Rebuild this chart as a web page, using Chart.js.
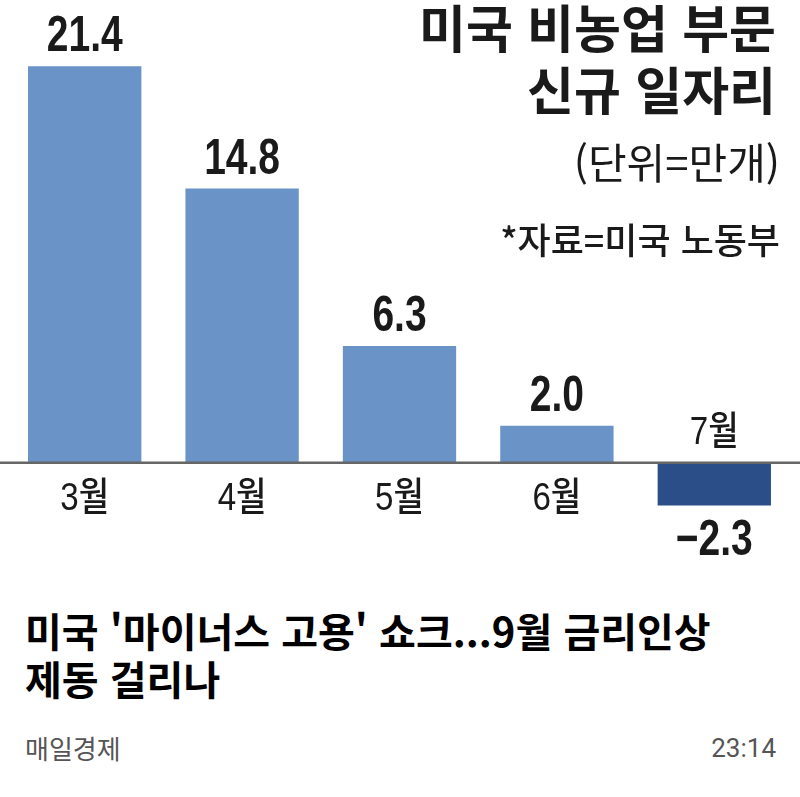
<!DOCTYPE html>
<html lang="ko">
<head>
<meta charset="utf-8">
<script src="https://cdn.jsdelivr.net/npm/chart.js@4"></script>
<style>
  html, body { margin: 0; padding: 0; background: #fff; }
  body { width: 800px; height: 797px; position: relative; overflow: hidden; font-family: "Noto Sans CJK KR", sans-serif; }
  #wrap { position: absolute; left: 0; top: 0; width: 800px; height: 590px; }
  .t { position: absolute; white-space: nowrap; line-height: 1; color: #1a1a1a; }
  .r { right: 24px; text-align: right; }
</style>
</head>
<body>
<div id="wrap"><canvas id="myChart"></canvas></div>

<div class="t r" style="top:1px; font-size:51px; font-weight:700;">미국 비농업 부문</div>
<div class="t r" style="top:63px; font-size:51px; font-weight:700;">신규 일자리</div>
<div class="t r" style="top:140px; font-size:42px; font-weight:400; right:20px;">(단위=만개)</div>
<div class="t r" style="top:220px; font-size:36px; font-weight:500; right:20px;">*자료=미국 노동부</div>

<div class="t" style="left:25px; top:610px; font-size:40px; font-weight:700; color:#000;">미국 '마이너스 고용' 쇼크...9월 금리인상</div>
<div class="t" style="left:25px; top:658px; font-size:40px; font-weight:700; color:#000;">제동 걸리나</div>

<div class="t" style="left:25px; top:735px; font-size:26px; color:#555;">매일경제</div>
<div class="t r" style="top:735px; font-size:26px; color:#555; font-family: Roboto, sans-serif;">23:14</div>

<script>
// data
const months = ['3월', '4월', '5월', '6월', '7월'];
const jobs = [21.4, 14.8, 6.3, 2.0, -2.3];
const valueLabels = ['21.4', '14.8', '6.3', '2.0', '\u22122.3'];

const barBlue = '#6a93c8';
const barNavy = '#2c4e88';

// draw text squeezed horizontally, like the condensed type in the original
function narrowText(ctx, text, x, y, scale) {
    ctx.save();
    ctx.translate(x, y);
    ctx.scale(scale, 1);
    ctx.fillText(text, 0, 0);
    ctx.restore();
}

const labelPlugin = {
    id: 'labelPlugin',
    afterDatasetsDraw(chart) {
        const ctx = chart.ctx;
        const y = chart.scales.y;
        const zero = y.getPixelForValue(0);
        const meta = chart.getDatasetMeta(0);

        // zero line
        ctx.save();
        ctx.strokeStyle = '#666';
        ctx.lineWidth = 2.5;
        ctx.beginPath();
        ctx.moveTo(0, zero);
        ctx.lineTo(chart.width, zero);
        ctx.stroke();

        ctx.fillStyle = '#1a1a1a';
        ctx.textAlign = 'center';

        meta.data.forEach((bar, i) => {
            const v = jobs[i];
            // value labels
            ctx.font = 'bold 50px "Liberation Sans", Arial, sans-serif';
            ctx.textBaseline = 'alphabetic';
            if (v >= 0) {
                narrowText(ctx, valueLabels[i], bar.x, bar.y - 15, 0.78);
            } else {
                narrowText(ctx, valueLabels[i], bar.x, bar.y + 50, 0.78);
            }
            // month labels
            ctx.font = '500 39px "Liberation Sans", "Noto Sans CJK KR", sans-serif';
            ctx.textBaseline = 'middle';
            if (v >= 0) {
                narrowText(ctx, months[i], bar.x, zero + 36, 0.85);
            } else {
                narrowText(ctx, months[i], bar.x, zero - 30, 0.85);
            }
        });
        ctx.restore();
    }
};

const ctx = document.getElementById('myChart').getContext('2d');
const myChart = new Chart(ctx, {
    type: 'bar',
    data: {
        labels: months,
        datasets: [{
            label: '미국 비농업 부문 신규 일자리',
            data: jobs,
            backgroundColor: jobs.map(v => v < 0 ? barNavy : barBlue),
            borderWidth: 0,
            barPercentage: 0.72,
            categoryPercentage: 1
        }]
    },
    options: {
        responsive: true,
        maintainAspectRatio: false,
        animation: false,
        layout: {
            padding: { top: 18, bottom: 53, left: 6, right: 7 }
        },
        plugins: {
            legend: { display: false },
            tooltip: { enabled: false }
        },
        scales: {
            x: { display: false },
            y: { display: false, min: -4, max: 24 }
        }
    },
    plugins: [labelPlugin]
});
</script>
</body>
</html>
